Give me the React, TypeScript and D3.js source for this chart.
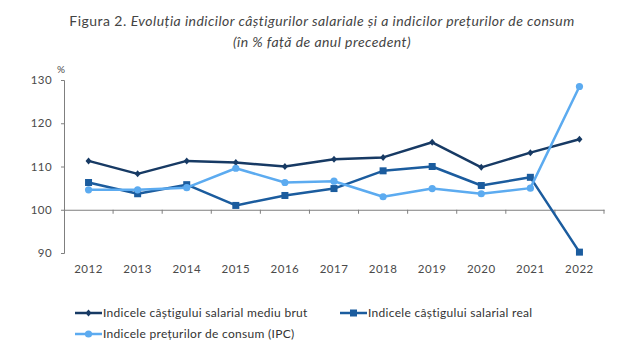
import React, { useEffect, useRef } from "react";
import * as d3 from "d3";

const years = ["2012", "2013", "2014", "2015", "2016", "2017", "2018", "2019", "2020", "2021", "2022"];
const brut = [111.3, 108.3, 111.3, 110.9, 110.0, 111.7, 112.1, 115.6, 109.8, 113.2, 116.3];
const real = [106.3, 103.7, 105.8, 101.0, 103.3, 104.9, 109.0, 110.0, 105.6, 107.5, 90.2];
const ipc = [104.6, 104.6, 105.1, 109.6, 106.3, 106.6, 103.0, 104.9, 103.7, 105.0, 128.5];
const yTicks = [90, 100, 110, 120, 130];

const series = [
  { name: "Indicele câștigului salarial mediu brut", values: brut, color: "#173a64", marker: "diamond" },
  { name: "Indicele câștigului salarial real", values: real, color: "#1b5c9e", marker: "square" },
  { name: "Indicele prețurilor de consum (IPC)", values: ipc, color: "#5cabf0", marker: "circle" },
];

const W = 644;
const H = 351;
const FONT = "Lato, 'Open Sans', sans-serif";

const App: React.FC = () => {
  const svgRef = useRef<SVGSVGElement | null>(null);

  useEffect(() => {
    const svg = d3.select(svgRef.current);
    svg.selectAll("*").remove();

    const left = 64;
    const right = 604;
    const top = 80;
    const bottom = 253;

    const x = d3.scaleBand().domain(years).range([left, right]).padding(0);
    const y = d3.scaleLinear().domain([90, 130]).range([bottom, top]);
    const cx = (i: number) => (x(years[i]) as number) + x.bandwidth() / 2;

    // title
    const title = svg
      .append("text")
      .attr("x", 322)
      .attr("y", 26)
      .attr("text-anchor", "middle")
      .attr("font-family", FONT)
      .attr("font-size", 14)
      .attr("letter-spacing", 0.45)
      .attr("fill", "#444");
    title.append("tspan").text("Figura 2. ");
    title
      .append("tspan")
      .attr("font-style", "italic")
      .text("Evoluția indicilor câștigurilor salariale și a indicilor prețurilor de consum");
    svg
      .append("text")
      .attr("x", 322)
      .attr("y", 47)
      .attr("text-anchor", "middle")
      .attr("font-family", FONT)
      .attr("font-size", 14)
      .attr("letter-spacing", 0.45)
      .attr("font-style", "italic")
      .attr("fill", "#444")
      .text("(în % față de anul precedent)");

    // y axis
    const yAxis = svg
      .append("g")
      .attr("transform", `translate(${left},0)`)
      .call(d3.axisLeft(y).tickValues(yTicks).tickSize(3).tickPadding(9));
    yAxis.selectAll("path,line").attr("stroke", "#7f7f7f");
    yAxis
      .selectAll("text")
      .attr("font-family", FONT)
      .attr("font-size", 11.5)
      .attr("letter-spacing", 0.4)
      .attr("fill", "#4a4a4a");

    svg
      .append("text")
      .attr("x", 61)
      .attr("y", 73)
      .attr("text-anchor", "middle")
      .attr("font-family", FONT)
      .attr("font-size", 10)
      .attr("fill", "#4a4a4a")
      .text("%");

    // x axis at 100
    const xAxis = svg
      .append("g")
      .attr("transform", `translate(0,${y(100)})`)
      .call(d3.axisBottom(x).tickSize(0).tickFormat(() => ""));
    xAxis.select(".domain").attr("stroke", "#7f7f7f");
    // tick marks between categories
    svg
      .append("g")
      .selectAll("line")
      .data(d3.range(1, years.length + 1))
      .enter()
      .append("line")
      .attr("x1", (i) => left + i * x.bandwidth())
      .attr("x2", (i) => left + i * x.bandwidth())
      .attr("y1", y(100))
      .attr("y2", y(100) + 4)
      .attr("stroke", "#7f7f7f");

    svg
      .append("g")
      .selectAll("text")
      .data(years)
      .enter()
      .append("text")
      .attr("x", (_d, i) => cx(i))
      .attr("y", 273)
      .attr("text-anchor", "middle")
      .attr("font-family", FONT)
      .attr("font-size", 11.5)
      .attr("letter-spacing", 0.5)
      .attr("fill", "#4a4a4a")
      .text((d) => d);

    const drawMarker = (g: d3.Selection<SVGGElement, unknown, null, undefined>, kind: string, px: number, py: number, color: string) => {
      if (kind === "square") {
        g.append("rect").attr("x", px - 3.5).attr("y", py - 3.5).attr("width", 7).attr("height", 7).attr("fill", color);
      } else if (kind === "circle") {
        g.append("circle").attr("cx", px).attr("cy", py).attr("r", 3.6).attr("fill", color);
      } else {
        g.append("path")
          .attr("d", `M${px},${py - 3.5}L${px + 3},${py}L${px},${py + 3.5}L${px - 3},${py}Z`)
          .attr("fill", color);
      }
    };

    const line = d3
      .line<number>()
      .x((_d, i) => cx(i))
      .y((d) => y(d));

    series.forEach((s) => {
      const g = svg.append("g");
      g.append("path")
        .attr("d", line(s.values) as string)
        .attr("fill", "none")
        .attr("stroke", s.color)
        .attr("stroke-width", 2.5)
        .attr("stroke-linejoin", "round");
      s.values.forEach((v, i) => drawMarker(g, s.marker, cx(i), y(v), s.color));
    });

    // legend
    const legendPos = [
      { x: 75, y: 313 },
      { x: 340, y: 313 },
      { x: 75, y: 334 },
    ];
    series.forEach((s, i) => {
      const p = legendPos[i];
      const g = svg.append("g");
      g.append("line")
        .attr("x1", p.x)
        .attr("x2", p.x + 27)
        .attr("y1", p.y)
        .attr("y2", p.y)
        .attr("stroke", s.color)
        .attr("stroke-width", 2.5);
      drawMarker(g, s.marker, p.x + 13.5, p.y, s.color);
      g.append("text")
        .attr("x", p.x + 28)
        .attr("y", p.y + 4)
        .attr("font-family", FONT)
        .attr("font-size", 12)
        .attr("letter-spacing", 0.3)
        .attr("fill", "#333")
        .text(s.name);
    });
  }, []);

  return <svg ref={svgRef} width={W} height={H} style={{ display: "block", position: "absolute", left: 0, top: 0 }} />;
};

export default App;
